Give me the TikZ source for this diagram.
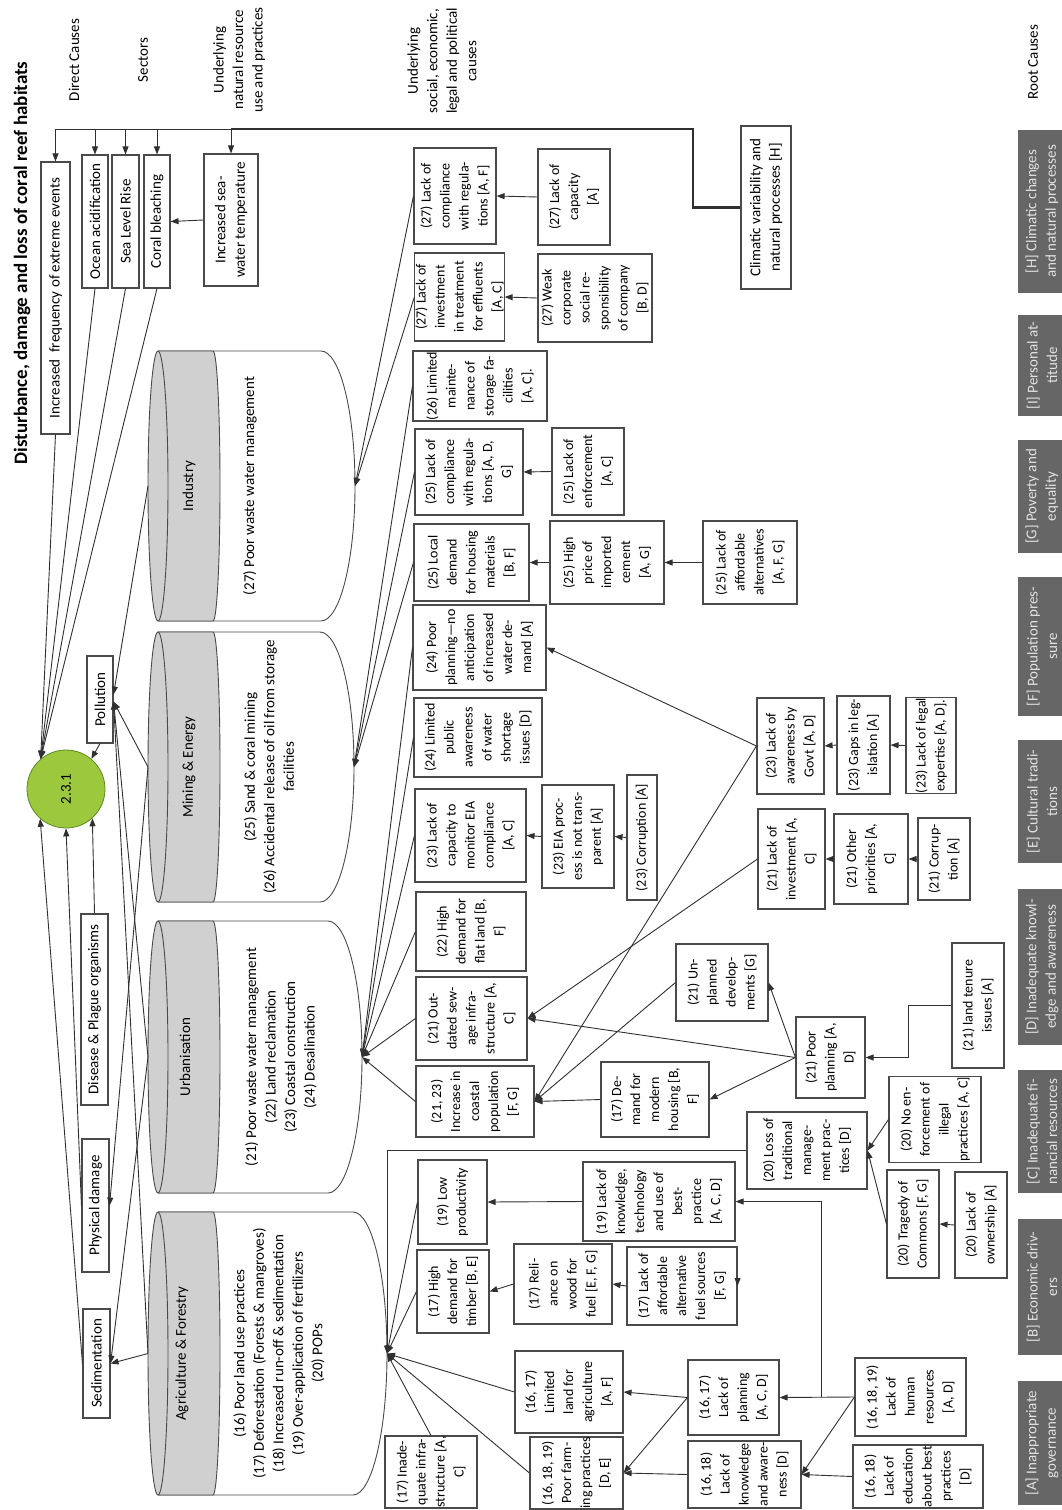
\documentclass[tikz,border=0pt]{standalone}
\usepackage{fontspec}
\setmainfont{Carlito}
\usepackage{graphicx}
\usetikzlibrary{arrows.meta,calc}
\definecolor{boxc}{HTML}{4A4A4A}
\definecolor{linec}{HTML}{303030}
\definecolor{cylgray}{HTML}{D0D0D0}
\definecolor{greenc}{HTML}{9BC83C}
\definecolor{greenb}{HTML}{5E8A22}
\definecolor{rootfill}{HTML}{666666}
\definecolor{roottext}{HTML}{E2E2E2}
\newcommand\fs{\fontsize{14}{19}\selectfont}
\newcommand\fsb{\fontsize{15}{19.5}\selectfont}
\newcommand\mybox[7][]{%
  \pgfmathsetmacro\mbx{(#3+#4)/2}%
  \pgfmathsetmacro\mby{(#5+#6)/2}%
  \pgfmathsetmacro\mbw{#4-#3}%
  \pgfmathsetmacro\mbh{#6-#5}%
  \node[bx, #1, minimum width=\mbh pt, minimum height=\mbw pt] (#2) at (\mbx,\mby) {#7};%
}
\newcommand\myroot[6]{%
  \pgfmathsetmacro\mbx{(#2+#3)/2}%
  \pgfmathsetmacro\mby{(#4+#5)/2}%
  \pgfmathsetmacro\mbw{#3-#2}%
  \pgfmathsetmacro\mbh{#5-#4}%
  \node[rootbx, minimum width=\mbh pt, minimum height=\mbw pt] (#1) at (\mbx,\mby) {#6};%
}
\newcommand\mycyl[4]{%
  \pgfmathsetmacro\cya{#2}%
  \pgfmathsetmacro\cyb{#3}%
  \pgfmathsetmacro\cym{(#2+#3)/2}%
  \pgfmathsetmacro\cky{0.5523*(#3-#2)/2}%
  \pgfmathsetmacro\cxe{#4-34}%
  \pgfmathsetmacro\cxk{#4-34+0.5523*34}%
  \draw[cyl] (158,\cya) -- (\cxe,\cya) .. controls (\cxk,\cya) and (#4,\cym-\cky) .. (#4,\cym) .. controls (#4,\cym+\cky) and (\cxk,\cyb) .. (\cxe,\cyb) -- (158,\cyb);
  \filldraw[cyl, fill=cylgray] (158,\cya) .. controls (152.5,\cya) and (148,\cym-\cky) .. (148,\cym) .. controls (148,\cym+\cky) and (152.5,\cyb) .. (158,\cyb) -- (213,\cyb) .. controls (217,\cyb) and (220,\cym+\cky) .. (220,\cym) .. controls (220,\cym-\cky) and (217,\cya) .. (213,\cya) -- cycle;
  \draw[cyl] (158,\cya) .. controls (163.5,\cya) and (168,\cym-\cky) .. (168,\cym) .. controls (168,\cym+\cky) and (163.5,\cyb) .. (158,\cyb);
  \coordinate (#1-l) at (148,\cym);
  \coordinate (#1-r) at (#4,\cym);
}
\begin{document}
\begin{tikzpicture}[x=1pt,y=-1pt,
  every node/.style={font=\fs},
  bx/.style={draw=boxc, line width=1.1pt, rotate=90, align=center, inner sep=0.5pt, fill=white},
  dc/.style={font=\fsb},
  rootbx/.style={fill=rootfill, draw=none, rotate=90, align=center, inner sep=1pt, text=roottext, font=\fsb},
  hd/.style={rotate=90, align=center, inner sep=0pt, font=\fsb},
  con/.style={draw=linec, line width=0.9pt},
  arr/.style={con, -{Triangle[length=8pt,width=6pt]}},
  cyl/.style={draw=boxc, line width=0.9pt},
]
\useasboundingbox (0,0) rectangle (1062,1510);

% headers
\node[hd, font=\fontsize{19}{22}\selectfont\bfseries] (title) at (22,263) {Disturbance, damage and loss of coral reef habitats};
\node[hd] (hdDC) at (74,60) {Direct Causes};
\node[hd] (hdSe) at (143,60) {Sectors};
\node[hd] (hdNR) at (239,60) {Underlying\\natural resource\\use and practices};
\node[hd] (hdSo) at (442,61) {Underlying\\social, economic,\\legal and political\\causes};
\node[hd] (hdRC) at (1033,62) {Root Causes};

% direct causes
\mybox[dc]{inc}{41}{70}{162}{434}{Increased\ \ frequency of extreme events}
\mybox[dc]{oce}{82}{108}{155}{288}{Ocean acidification}
\mybox[dc]{sea}{112}{139}{155}{288}{Sea Level Rise}
\mybox[dc]{cor}{144}{170}{155}{288}{Coral bleaching}
\mybox[dc]{sst}{204}{258}{154}{286}{Increased sea-\\water temperature}
\mybox[dc]{clim}{741}{791}{126}{289}{Climatic variability and\\natural processes [H]}
\mybox[dc]{pol}{87}{113}{656}{743}{Pollution}
\mybox[dc]{dis}{81}{108}{914}{1105}{Disease \& Plague organisms}
\mybox[dc]{phy}{82}{109}{1139}{1272}{Physical damage}
\mybox[dc]{sed}{83}{110}{1309}{1418}{Sedimentation}
\node[circle, draw=greenb, fill=greenc, line width=0.8pt, minimum size=78pt, inner sep=0pt, font=\fsb] (circ) at (66,789) {\rotatebox{90}{2.3.1}};

% sectors
\mycyl{ind}{351}{621}{355}
\mycyl{min}{632}{902}{354}
\mycyl{urb}{921}{1193}{362}
\mycyl{agr}{1212}{1495}{387}
\node[hd] (indT) at (189,486) {Industry};
\node[hd] (indB) at (250,486) {(27) Poor waste water management};
\node[hd] (minT) at (189,767) {Mining \& Energy};
\node[hd] (minB) at (269,767) {(25) Sand \& coral mining\\(26) Accidental release of oil from storage\\facilities};
\node[hd] (urbT) at (185,1057) {Urbanisation};
\node[hd] (urbB) at (281,1057) {(21) Poor waste water management\\(22) Land reclamation\\(23) Coastal construction\\(24) Desalination};
\node[hd] (agrT) at (182,1353.5) {Agriculture \& Forestry};
\node[hd] (agrB) at (279,1353.5) {(16) Poor land use practices\\(17) Deforestation (Forests \& mangroves)\\(18) Increased run-off \& sedimentation\\(19) Over-application of fertilizers\\(20) POPs};

% underlying causes
\mybox{c27a}{414}{496}{148}{244}{(27) Lack of\\compliance\\with regula-\\tions [A, F]}
\mybox{c27b}{416}{503}{253}{341}{(27) Lack of\\investment\\in treatment\\for effluents\\{}[A, C]}
\mybox{c27c}{538}{610}{149}{245}{(27) Lack of\\capacity\\{}[A]}
\mybox{c27d}{538}{652}{254}{342}{(27) Weak\\corporate\\social re-\\sponsibility\\of company\\{}[B, D]}
\mybox{c26}{413}{547}{351}{421}{(26) Limited\\mainte-\\nance of\\storage fa-\\cilities\\{}[A, C].}
\mybox{c25a}{415}{523}{429}{515}{(25) Lack of\\compliance\\with regula-\\tions [A, D,\\G]}
\mybox{c25b}{552}{624}{428}{515}{(25) Lack of\\enforcement\\{}[A, C]}
\mybox{c25c}{414}{529}{524}{601}{(25) Local\\demand\\for housing\\materials\\{}[B, F]}
\mybox{c25d}{550}{664}{521}{604}{(25) High\\price of\\imported\\cement\\{}[A, G]}
\mybox{c25e}{703}{797}{521}{604}{(25) Lack of\\affordable\\alternatives\\{}[A, F, G]}
\mybox{c24a}{413}{546}{605}{690}{(24) Poor\\planning—no\\anticipation\\of increased\\water de-\\mand [A]}
\mybox{c24b}{414}{542}{698}{777}{(24) Limited\\public\\awareness\\of water\\shortage\\issues [D]}
\mybox{c23a}{415}{526}{789}{882}{(23) Lack of\\capacity to\\monitor EIA\\compliance\\{}[A, C]}
\mybox{c23b}{542}{614}{785}{888}{(23) EIA proc-\\ess is not trans-\\parent [A]}
\mybox{c23c}{627}{657}{775}{900}{(23) Corruption [A]}
\mybox{c22}{416}{526}{892}{971}{(22) High\\demand for\\flat land [B,\\F]}
\mybox{c21a}{416}{527}{977}{1060}{(21) Out-\\dated sew-\\age infra-\\structure [A,\\C]}
\mybox{c2123}{416}{534}{1066}{1137}{(21, 23)\\Increase in\\coastal\\population\\{}[F, G]}
\mybox{c23d}{757}{824}{698}{794}{(23) Lack of\\awareness by\\Govt [A, D]}
\mybox{c23e}{837}{890}{696}{794}{(23) Gaps in leg-\\islation [A]}
\mybox{c23f}{906}{956}{698}{793}{(23) Lack of legal\\expertise [A, D].}
\mybox{c21b}{758}{825}{809}{909}{(21) Lack of\\investment [A,\\C]}
\mybox{c21c}{834}{908}{814}{904}{(21) Other\\priorities [A,\\C]}
\mybox{c21d}{918}{970}{818}{900}{(21) Corrup-\\tion [A]}
\mybox{c21e}{676}{768}{944}{1021}{(21) Un-\\planned\\develop-\\ments [G]}
\mybox{c21f}{796}{865}{1017}{1098}{(21) Poor\\planning [A,\\D]}
\mybox{c21g}{952}{1004}{943}{1068}{(21) land tenure\\issues [A]}
\mybox{c17a}{601}{709}{1062}{1137}{(17) De-\\mand for\\modern\\housing [B,\\F]}
\mybox{c20a}{747}{867}{1112}{1189}{(20) Loss of\\traditional\\manage-\\ment prac-\\tices [D]}
\mybox{c20b}{889}{981}{1077}{1162}{(20) No en-\\forcement of\\illegal\\practices [A, C]}
\mybox{c20c}{887}{939}{1170}{1278}{(20) Tragedy of\\Commons [F, G]}
\mybox{c20d}{955}{1007}{1172}{1278}{(20) Lack of\\ownership [A]}
\mybox{c19a}{418}{487}{1160}{1244}{(19) Low\\productivity}
\mybox{c19b}{583}{735}{1162}{1241}{(19) Lack of\\knowledge,\\technology\\and use of\\best-\\practice\\{}[A, C, D]}
\mybox{c17b}{417}{489}{1250}{1333}{(17) High\\demand for\\timber [B, E]}
\mybox{c17c}{514}{612}{1244}{1324}{(17) Reli-\\ance on\\wood for\\fuel [E, F, G]}
\mybox{c17d}{627}{737}{1247}{1325}{(17) Lack of\\affordable\\alternative\\fuel sources\\{}[F, G]}
\mybox{c17e}{385}{477}{1436}{1508}{(17) Inade-\\quate infra-\\structure [A,\\C]}
\mybox{c1617a}{515}{623}{1351}{1433}{(16, 17)\\Limited\\land for\\agriculture\\{}[A, F]}
\mybox{c161819a}{530}{623}{1438}{1508}{(16, 18, 19)\\Poor farm-\\ing practices\\{}[D, E]}
\mybox{c1617b}{688}{779}{1360}{1435}{(16, 17)\\Lack of\\planning\\{}[A, C, D]}
\mybox{c1618a}{688}{801}{1441}{1508}{(16, 18)\\Lack of\\knowledge\\and aware-\\ness [D]}
\mybox{c161819b}{855}{966}{1358}{1436}{(16, 18, 19)\\Lack of\\human\\resources\\{}[A, D]}
\mybox{c1618b}{853}{983}{1445}{1508}{(16, 18)\\Lack of\\education\\about best\\practices\\{}[D]}

% root causes
\myroot{rH}{1018}{1066}{130}{293}{[H] Climatic changes\\and natural processes}
\myroot{rI}{1018}{1066}{315}{416}{[I] Personal at-\\titude}
\myroot{rG}{1018}{1066}{440}{553}{[G] Poverty and\\equality}
\myroot{rF}{1018}{1066}{577}{716}{[F] Population pres-\\sure}
\myroot{rE}{1018}{1066}{740}{863}{[E] Cultural tradi-\\tions}
\myroot{rD}{1018}{1066}{889}{1045}{[D] Inadequate knowl-\\edge and awareness}
\myroot{rC}{1018}{1066}{1070}{1193}{[C] Inadequate fi-\\nancial resources}
\myroot{rB}{1018}{1066}{1219}{1355}{[B] Economic driv-\\ers}
\myroot{rA}{1018}{1066}{1381}{1505}{[A] Inappropriate\\governance}

% top bus
\coordinate (busR) at (693,129);
\coordinate (busM) at (231,129);
\draw[con, line width=2.2pt, line join=miter] (clim.north) -| (busR) -- (busM);
\draw[con] (busM) -- (inc.east |- busM);
\draw[arr] (inc.east |- busM) -- (inc.east);
\draw[arr] (oce.east |- busM) -- (oce.east);
\draw[arr] (sea.east |- busM) -- (sea.east);
\draw[arr] (cor.east |- busM) -- (cor.east);
\draw[arr] (busM) -- (sst.east);
\draw[arr] (sst.north) -- (cor.south);

% into 2.3.1
\foreach \s in {inc,oce,sea,cor} \draw[arr] (\s.west) -- (circ.130);
\draw[arr] (pol.west) -- (circ.50);
\draw[arr] (dis.east) -- (circ.-48);
\draw[arr] (phy.north) -- (circ.-90);
\draw[arr] (sed.north) -- (circ.-131);

% sectors to direct causes
\draw[arr] (ind-l) -- ($(pol.south)+(0,-5)$);
\draw[arr] (min-l) -- ($(pol.south)+(0,2)$);
\draw[arr] (urb-l) -- ($(pol.south)+(0,2)$);
\draw[arr] (agr-l) -- ($(pol.south)+(0,2)$);
\draw[arr] (min-l) -- (phy.south);
\draw[arr] (urb-l) -- (sed.south);
\draw[arr] (agr-l) -- (sed.south);

% into sectors
\foreach \s in {c27a,c27b} \draw[arr] (\s.north) -- (ind-r);
\foreach \s in {c26,c25a,c25c} \draw[arr] (\s.north) -- (min-r);
\foreach \s in {c24a,c24b,c23a,c22,c21a,c2123} \draw[arr] (\s.north) -- (urb-r);
\foreach \s in {c19a,c17b,c1617a,c161819a} \draw[arr] (\s.north) -- (agr-r);
\draw[arr] (c17e.east) -- (agr-r);
\draw[arr] (c20a.north) -| (agr-r);

% between causes
\draw[arr] (c27c.north) -- (c27a.south);
\draw[arr] (c27d.north) -- (c27b.south);
\draw[arr] (c25b.north) -- (c25a.south);
\draw[arr] (c25d.north) -- (c25c.south);
\draw[arr] (c25e.north) -- (c25d.south);
\draw[arr] (c23b.north) -- (c23a.south);
\draw[arr] (c23c.north) -- (c23b.south);
\draw[arr] (c23e.north) -- (c23d.south);
\draw[arr] (c23f.north) -- (c23e.south);
\draw[arr] (c21c.north) -- (c21b.south);
\draw[arr] (c21d.north) -- (c21c.south);
\draw[arr] (c23d.north) -- (c24a.south);
\draw[arr] (c23d.north) -- (c2123.south);
\draw[arr] (c21b.north) -- (c21a.south);
\draw[arr] (c21f.north) -- (c21e.south);
\draw[arr] (c21f.north) -- (c21a.south);
\draw[arr] (c21f.north) -- (c17a.south);
\draw[arr] (c21e.north) -- (c2123.south);
\draw[arr] (c17a.north) -- (c2123.south);
\draw[arr] (c21g.north) -- ++(-43,0) |- (c21f.south);
\draw[arr] (c19b.north) -- (c19a.south);
\draw[arr] (c17c.north) -- (c17b.south);
\draw[arr] (c17d.north) -- (c17c.south);
\draw[arr] ($(c17d.south)+(0,-9)$) -- (c17d.south);
\draw[arr] (c161819b.north) -- (c1617b.south);
\coordinate (hrj) at (821,1397);
\draw[arr] (hrj) |- (c19b.south);
\draw[arr] (c161819b.north) -- (c1618a.south);
\draw[arr] (c1618b.north) -- (c1618a.south);
\draw[arr] (c1617b.north) -- (c1617a.south);
\draw[arr] (c1617b.north) -- (c161819a.south);
\draw[arr] (c1618a.north) -- (c161819a.south);
\draw[arr] (c20d.north) -- (c20c.south);
\draw[arr] (c20c.north) -- (c20a.south);
\draw[arr] (c20b.north) -- (c20a.south);
\end{tikzpicture}
\end{document}
